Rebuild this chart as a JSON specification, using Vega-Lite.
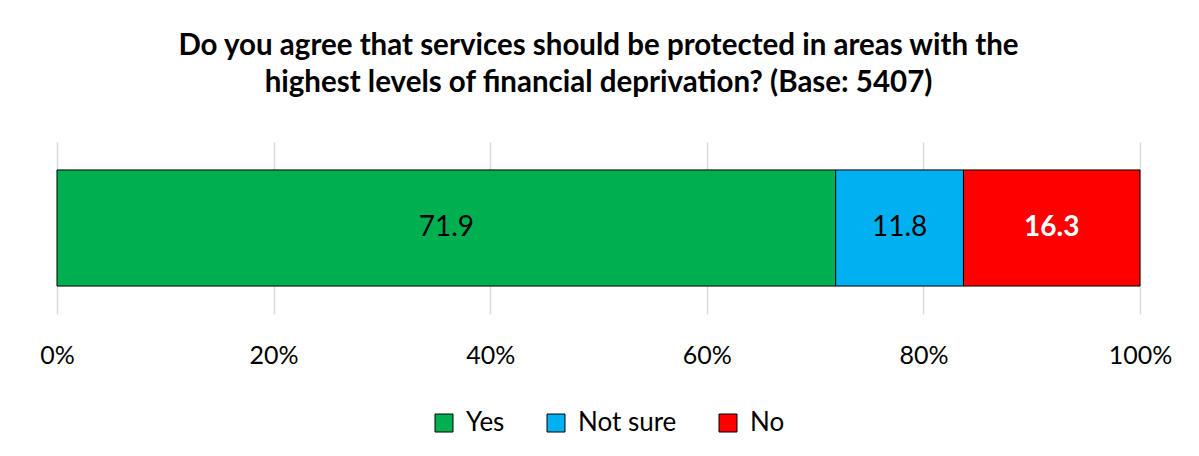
{
  "$schema": "https://vega.github.io/schema/vega-lite/v6.json",
  "autosize": {"type": "none"},
  "width": 1083,
  "height": 172,
  "padding": {"left": 57, "top": 142, "right": 59, "bottom": 142},
  "background": "white",
  "config": {
    "font": "Lato",
    "view": {"stroke": null}
  },
  "title": {
    "text": ["Do you agree that services should be protected in areas with the", "highest levels of financial deprivation? (Base: 5407)"],
    "font": "Lato",
    "fontSize": 29.5,
    "fontWeight": "bold",
    "color": "#000000",
    "anchor": "middle",
    "lineHeight": 37,
    "offset": 44
  },
  "data": {
    "values": [
      {"q": "Q", "response": "Yes", "value": 71.9, "order": 1},
      {"q": "Q", "response": "Not sure", "value": 11.8, "order": 2},
      {"q": "Q", "response": "No", "value": 16.3, "order": 3}
    ]
  },
  "encoding": {
    "y": {"field": "q", "type": "nominal", "axis": null, "scale": {"paddingInner": 0.194, "paddingOuter": 0.194}},
    "x": {"field": "value", "type": "quantitative", "stack": "zero",
      "scale": {"domain": [0, 100], "nice": false},
      "axis": {"values": [0, 20, 40, 60, 80, 100], "labelExpr": "datum.value + '%'", "title": null,
        "domain": false, "ticks": false, "grid": true, "gridColor": "#d9d9d9", "gridWidth": 1.5,
        "labelFontSize": 25, "labelColor": "#000000", "labelPadding": 29, "labelFont": "Lato", "labelFlush": false}},
    "order": {"field": "order", "type": "quantitative"}
  },
  "layer": [
    {
      "mark": {"type": "bar", "stroke": "#000000", "strokeWidth": 1},
      "encoding": {
        "color": {"field": "response", "type": "nominal",
          "scale": {"domain": ["Yes", "Not sure", "No"], "range": ["#00B050", "#00B0F0", "#FF0000"]},
          "legend": {"orient": "none", "legendX": 374, "legendY": 268, "title": null, "direction": "horizontal", "symbolType": "square",
            "symbolSize": 324, "symbolStrokeColor": "#000000", "symbolStrokeWidth": 1, "labelFontSize": 26,
            "labelColor": "#000000", "labelFont": "Lato", "columnPadding": 38, "labelOffset": 9}}
      }
    },
    {
      "mark": {"type": "text", "fontSize": 28, "font": "Lato", "color": "#000000"},
      "encoding": {
        "x": {"field": "value", "type": "quantitative", "stack": "zero", "bandPosition": 0.5},
        "text": {"field": "value", "type": "quantitative", "format": ".1f"},
        "opacity": {"condition": {"test": "datum.response === 'No'", "value": 0}, "value": 1}
      }
    },
    {
      "mark": {"type": "text", "fontSize": 28, "font": "Lato", "fontWeight": "bold", "color": "#ffffff"},
      "encoding": {
        "x": {"field": "value", "type": "quantitative", "stack": "zero", "bandPosition": 0.5},
        "text": {"field": "value", "type": "quantitative", "format": ".1f"},
        "opacity": {"condition": {"test": "datum.response === 'No'", "value": 1}, "value": 0}
      }
    }
  ]
}
